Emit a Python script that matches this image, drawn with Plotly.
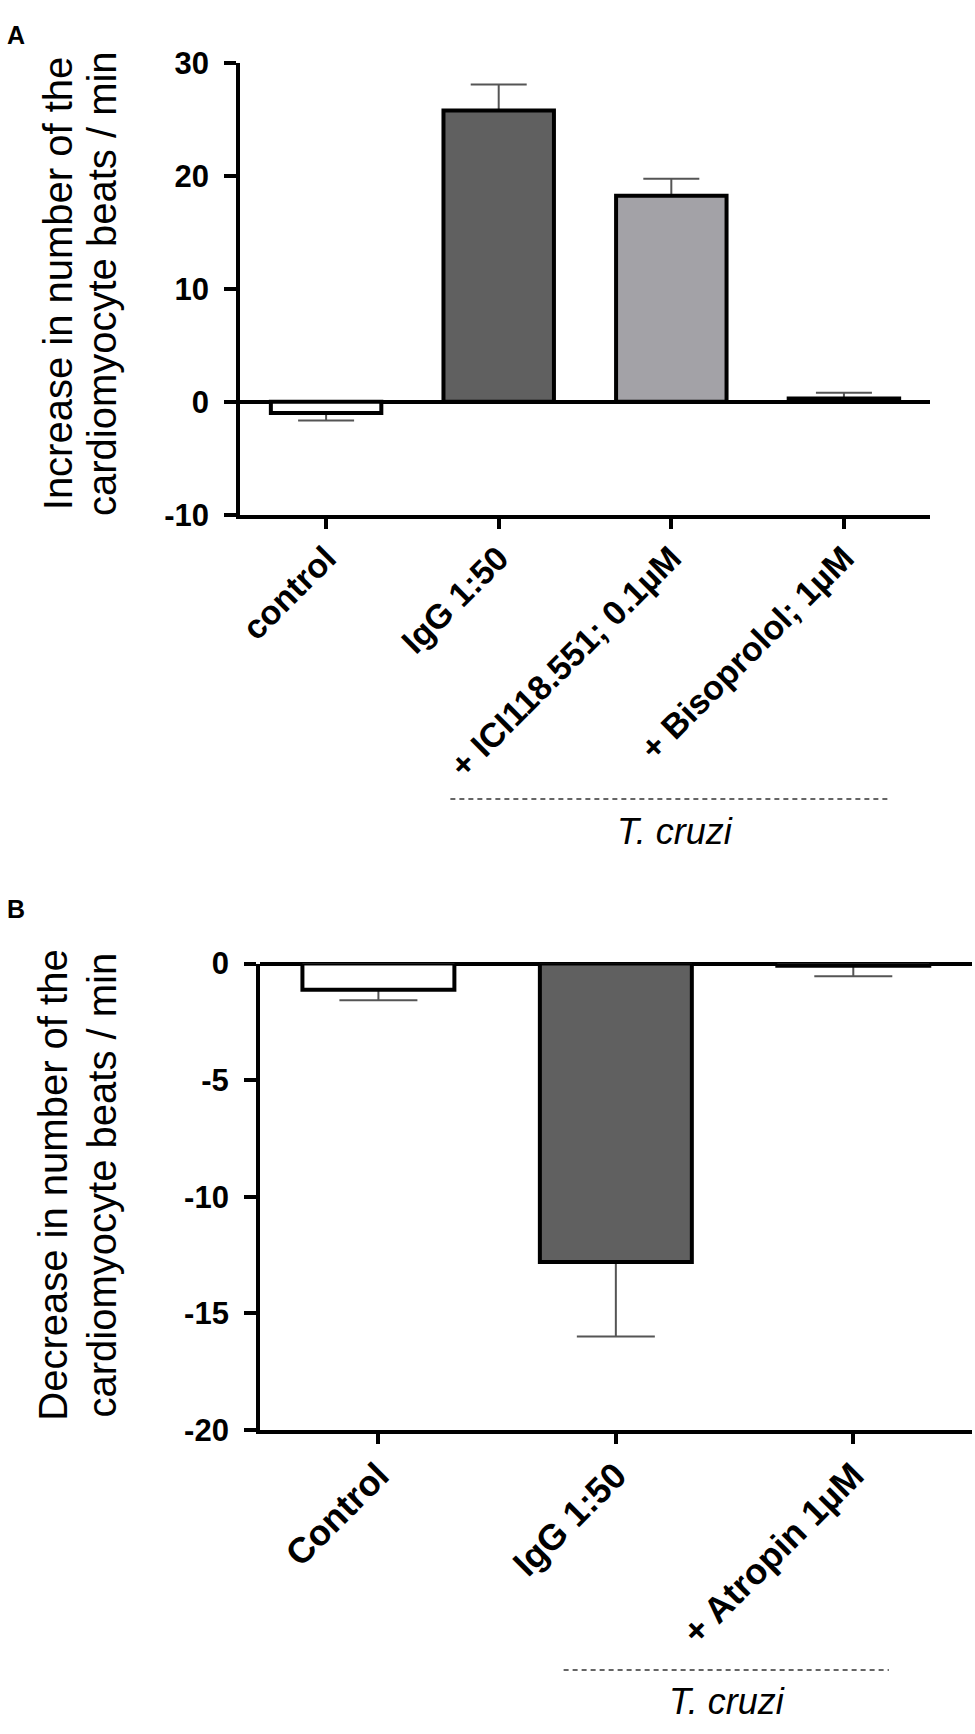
import plotly.graph_objects as go

W, H = 975, 1734

# panel A data
cats_a = ["control", "IgG 1:50", "+ ICI118.551; 0.1µM", "+ Bisoprolol; 1µM"]
vals_a = [-1.0, 25.8, 18.25, 0.3]
errs_a = [0.65, 2.3, 1.5, 0.5]
cols_a = ["#ffffff", "#606060", "#a3a2a7", "#000000"]
yticks_a = [-10, 0, 10, 20, 30]

# panel B data
cats_b = ["Control", "IgG 1:50", "+ Atropin 1µM"]
vals_b = [-1.13, -12.8, -0.1]
errs_b = [0.45, 3.2, 0.45]
cols_b = ["#ffffff", "#606060", "#ffffff"]
yticks_b = [-20, -15, -10, -5, 0]

FONT = "Liberation Sans, Arial, sans-serif"


def px_x(p):
    return p / W


def px_y(p):
    return 1 - p / H


def add_panel(fig, cats, vals, errs, cols, xa, ya, cap):
    up = [e if v >= 0 else 0 for v, e in zip(vals, errs)]
    down = [e if v < 0 else 0 for v, e in zip(vals, errs)]
    # error bars first, so the bar outline covers the zero-length side
    fig.add_trace(go.Bar(
        x=cats, y=vals, width=0.64, xaxis=xa, yaxis=ya,
        marker=dict(color="rgba(0,0,0,0)", line=dict(width=0)),
        error_y=dict(type="data", symmetric=False, array=up, arrayminus=down,
                     color="#555555", thickness=2, width=cap),
        showlegend=False, hoverinfo="skip"))
    fig.add_trace(go.Bar(
        x=cats, y=vals, width=0.64, xaxis=xa, yaxis=ya,
        marker=dict(color=cols, line=dict(color="black", width=4)),
        showlegend=False))


fig = go.Figure()
add_panel(fig, cats_a, vals_a, errs_a, cols_a, "x", "y", 28)
add_panel(fig, cats_b, vals_b, errs_b, cols_b, "x2", "y2", 39)

axis_common = dict(showline=True, linewidth=4, linecolor="black", ticks="outside",
                   tickwidth=4, tickcolor="black", showgrid=False)
ytxt = lambda vals: [str(v) + "\u00a0" for v in vals]  # plain hyphen, small gap

fig.update_layout(
    width=W, height=H, margin=dict(l=0, r=0, t=0, b=0),
    paper_bgcolor="white", plot_bgcolor="white", barmode="overlay",
    font=dict(family=FONT, color="black"),
    xaxis=dict(domain=[px_x(236), px_x(930)], anchor="y", range=[-0.5, 3.5],
               tickangle=-45, ticklen=10, ticklabelstandoff=-4,
               tickfont=dict(family=FONT, size=34, weight="bold"), **axis_common),
    yaxis=dict(domain=[px_y(508), px_y(47)], anchor="x", range=[-10, 30],
               tickvals=yticks_a, ticktext=ytxt(yticks_a), ticklen=12,
               tickfont=dict(family=FONT, size=31, weight="bold"),
               zeroline=True, zerolinewidth=4, zerolinecolor="black", **axis_common),
    xaxis2=dict(domain=[px_x(256), px_x(972)], anchor="y2", range=[-0.5, 2.5],
                tickangle=-45, ticklen=10, ticklabelstandoff=-4,
                tickfont=dict(family=FONT, size=36, weight="bold"), **axis_common),
    yaxis2=dict(domain=[px_y(1442), px_y(966)], anchor="x2", range=[-20, 0],
                tickvals=yticks_b, ticktext=ytxt(yticks_b), ticklen=12,
                tickfont=dict(family=FONT, size=31, weight="bold"),
                zeroline=True, zerolinewidth=4, zerolinecolor="black", **axis_common),
)

# T. cruzi group lines
dash = dict(color="#333333", width=1.5, dash="5px,4px")
fig.add_shape(type="line", xref="x", yref="paper", x0=0.72, x1=3.275,
              y0=px_y(798), y1=px_y(798), line=dash)
fig.add_shape(type="line", xref="x2", yref="paper", x0=0.78, x1=2.15,
              y0=px_y(1687), y1=px_y(1687), line=dash)
fig.add_annotation(text="<i>T. cruzi</i>", xref="x", yref="paper", x=2.02, y=px_y(831),
                   xanchor="center", yanchor="middle", showarrow=False,
                   font=dict(size=36, family=FONT))
fig.add_annotation(text="<i>T. cruzi</i>", xref="x2", yref="paper", x=1.47, y=px_y(1719),
                   xanchor="center", yanchor="middle", showarrow=False,
                   font=dict(size=36, family=FONT))

# panel letters
fig.add_annotation(text="<b>A</b>", xref="paper", yref="paper", x=0, y=px_y(2),
                   xanchor="left", yanchor="top", showarrow=False, font=dict(size=25, family=FONT))
fig.add_annotation(text="<b>B</b>", xref="paper", yref="paper", x=0, y=px_y(894),
                   xanchor="left", yanchor="top", showarrow=False, font=dict(size=25, family=FONT))

# y axis titles, two lines each
titles = [
    ("Increase in number of the", 53, 272),
    ("cardiomyocyte beats / min", 97, 272),
    ("Decrease in number of the", 48, 1192),
    ("cardiomyocyte beats / min", 97, 1192),
]
for txt, cx, cy in titles:
    fig.add_annotation(text=txt, xref="paper", yref="paper", x=px_x(cx), y=px_y(cy),
                       xanchor="center", yanchor="middle", textangle=-90,
                       showarrow=False, font=dict(size=40, family=FONT))

fig.write_html("out.html", config={"displayModeBar": False},
               post_script="document.body.style.margin='0';")
